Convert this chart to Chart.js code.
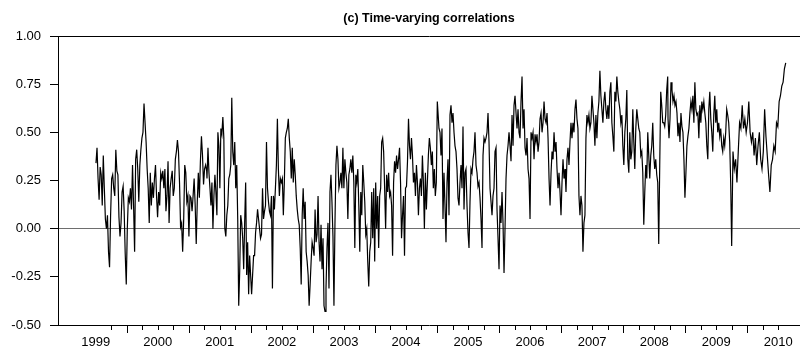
<!DOCTYPE html>
<html>
<head>
<meta charset="utf-8">
<script src="https://cdn.jsdelivr.net/npm/chart.js@4.4.0/dist/chart.umd.min.js"></script>
<style>
  html, body { margin: 0; padding: 0; background: #fff; }
  #wrap { width: 800px; height: 353px; }
</style>
</head>
<body>
<div id="wrap"><canvas id="corrChart"></canvas></div>
<script>
// tick labels
const yearLabels = ['1999', '2000', '2001', '2002', '2003', '2004', '2005', '2006', '2007', '2008', '2009', '2010'];
const yTicks = [-0.5, -0.25, 0, 0.25, 0.5, 0.75, 1];

// weekly correlations in stretches (first and last date of each)
const segStart = [1999.504, 2001.293, 2003.163, 2005.032, 2006.886, 2008.723, 2009.770];
const segEnd = [2001.288, 2003.147, 2005.005, 2006.870, 2008.718, 2009.749, 2010.620];

const corr1999 = [0.34,0.42,0.26,0.15,0.32,0.28,0.12,0.38,0.21,0.05,0.00,0.07,-0.12,-0.20,0.07,0.26,0.28,0.21,0.17,0.41,
  0.30,0.28,0.06,-0.04,0.03,0.19,0.22,0.09,-0.13,-0.29,0.00,0.16,0.14,0.21,0.10,0.33,0.12,-0.12,0.36,0.41,
  0.31,0.14,0.33,0.41,0.47,0.50,0.65,0.55,0.45,0.31,0.21,0.03,0.29,0.12,0.24,0.16,0.26,0.33,0.17,0.06,
  0.19,0.12,0.29,0.26,0.30,0.21,0.31,0.09,0.17,0.35,0.03,0.21,0.26,0.30,0.17,0.21,0.36,0.40,0.46,0.40,
  0.24,0.01,0.03,-0.12,0.05,0.33,0.29,0.14,0.17,-0.04,0.17,0.16,0.09,0.17,0.26,0.12,-0.08,0.14,0.29,0.16,
  0.35,0.48,0.38,0.23,0.31,0.33,0.30];
const corr2001 = [0.26,0.42,0.29,0.21,0.12,0.24,0.00,0.17,0.28,0.19,0.07,0.50,0.43,0.21,0.52,0.49,0.58,0.47,0.00,-0.04,
  0.07,0.12,0.26,0.28,0.33,0.68,0.40,0.33,0.45,0.21,0.33,0.05,-0.40,-0.22,0.07,0.03,-0.05,-0.21,0.03,0.24,
  -0.24,-0.07,-0.34,-0.14,-0.24,-0.34,-0.24,-0.14,-0.14,-0.02,0.03,0.10,0.05,0.00,-0.05,-0.03,0.21,0.05,0.09,0.12,
  0.45,0.21,0.14,0.09,0.07,0.17,-0.31,0.17,0.10,0.21,0.33,0.57,0.31,0.17,0.26,0.24,0.26,0.07,0.24,0.47,
  0.50,0.52,0.57,0.47,0.40,0.26,0.42,0.24,0.36,0.28,0.17,0.10,0.05,0.02,-0.10,-0.29,0.07,0.21,0.05,0.14,
  -0.12,-0.17,-0.24,-0.40,-0.29,-0.17,-0.07,-0.10,-0.14,0.10,-0.07,-0.03,0.17,-0.07,-0.17,0.02,-0.21];
const corr2003 = [-0.05,-0.40,-0.43,-0.31,-0.10,0.03,-0.31,0.19,0.28,0.14,-0.04,-0.40,0.02,0.33,0.43,0.36,0.21,0.24,0.29,0.21,
  0.42,0.21,0.36,0.29,0.24,0.05,0.28,0.31,0.36,0.29,0.38,0.24,-0.10,0.28,0.24,0.31,0.12,-0.12,0.19,0.07,
  0.33,0.24,0.14,-0.03,0.00,-0.17,-0.30,-0.12,-0.07,0.19,-0.05,0.21,-0.17,0.24,0.00,0.17,-0.10,0.17,0.21,0.45,
  0.47,0.40,0.21,0.00,0.28,0.19,0.29,0.17,0.19,0.12,-0.14,0.24,0.35,0.29,0.38,0.31,0.36,0.42,0.24,-0.05,
  0.07,0.17,-0.14,0.21,0.22,0.35,0.57,0.43,0.36,0.47,0.38,0.24,0.29,0.17,0.33,0.24,0.07,0.21,0.26,0.17,
  0.38,0.24,0.00,0.29,0.10,0.24,0.38,0.47,0.42,0.33,0.40,0.21,0.31,0.17,0.24,0.66];
const corr2005 = [0.52,0.50,0.38,0.52,0.05,0.29,0.12,-0.07,0.24,0.36,0.07,0.59,0.64,0.55,0.60,0.50,0.43,0.40,0.31,0.16,
  0.12,0.24,0.33,0.21,0.53,0.10,0.29,0.31,0.12,-0.02,-0.10,0.14,0.31,0.29,0.36,0.40,0.50,0.33,0.29,0.22,
  0.24,0.16,0.05,-0.10,0.38,0.47,0.45,0.47,0.50,0.60,0.45,0.21,0.14,0.07,0.17,0.21,0.40,0.42,0.10,-0.05,
  -0.21,0.12,0.03,0.19,0.03,-0.23,0.00,0.26,0.38,0.43,0.50,0.43,0.35,0.59,0.43,0.64,0.69,0.60,0.52,0.62,
  0.50,0.47,0.66,0.79,0.52,0.62,0.42,0.38,0.47,0.31,0.26,0.05,0.50,0.47,0.50,0.36,0.49,0.45,0.49,0.40,
  0.45,0.57,0.60,0.50,0.55,0.66,0.57,0.55,0.60,0.47,0.26,0.12,0.29,0.40,0.36];
const corr2007 = [0.50,0.40,0.45,0.31,0.21,0.29,0.19,0.07,0.24,0.36,0.26,0.31,0.19,0.36,0.42,0.33,0.45,0.55,0.47,0.55,
  0.50,0.62,0.67,0.57,0.52,0.17,0.07,0.17,0.12,-0.12,0.03,0.07,0.47,0.59,0.55,0.59,0.52,0.55,0.69,0.62,
  0.55,0.43,0.59,0.47,0.60,0.66,0.82,0.69,0.62,0.55,0.66,0.71,0.62,0.57,0.64,0.57,0.71,0.76,0.55,0.48,
  0.40,0.71,0.66,0.79,0.71,0.66,0.62,0.55,0.59,0.43,0.33,0.50,0.57,0.72,0.36,0.29,0.50,0.36,0.40,0.62,
  0.45,0.31,0.52,0.62,0.57,0.52,0.50,0.38,0.40,0.29,0.02,0.19,0.33,0.26,0.50,0.38,0.26,0.38,0.43,0.55,
  0.38,0.31,0.36,0.28,0.24,-0.08,0.33,0.71,0.64,0.55,0.55,0.53,0.59,0.72,0.79];
const corr2008 = [0.57,0.47,0.57,0.76,0.72,0.66,0.69,0.64,0.66,0.60,0.48,0.55,0.45,0.60,0.53,0.50,0.36,0.16,0.29,0.43,
  0.48,0.52,0.60,0.66,0.62,0.69,0.55,0.76,0.62,0.59,0.60,0.47,0.64,0.55,0.66,0.62,0.66,0.60,0.55,0.43,
  0.36,0.62,0.71,0.57,0.50,0.40,0.59,0.69,0.55,0.62,0.50,0.55,0.48,0.52,0.43,0.40,0.47,0.43,0.50,0.62,
  0.59,0.55,0.45,0.24,-0.09];
const corr2009 = [0.40,0.31,0.36,0.24,0.40,0.55,0.52,0.64,0.52,0.57,0.50,0.55,0.66,0.50,0.45,
  0.50,0.38,0.47,0.33,0.43,0.50,0.36,0.31,0.40,0.62,0.48,0.38,0.28,0.19,0.33,0.36,0.43,0.40,0.55,0.53,
  0.66,0.69,0.74,0.76,0.83,0.86];

const stretches = [corr1999, corr2001, corr2003, corr2005, corr2007, corr2008, corr2009];
const points = [];
stretches.forEach((vals, s) => {
    const step = (segEnd[s] - segStart[s]) / (vals.length - 1);
    vals.forEach((v, i) => points.push({ x: segStart[s] + i * step, y: v }));
});

const FONT = '"Liberation Sans", Arial, sans-serif';

// the title looks condensed; use the narrow face when it is installed
function hasFont(name) {
    const c = document.createElement('canvas').getContext('2d');
    c.font = 'bold 40px monospace';
    const a = c.measureText('Time-varying correlations').width;
    c.font = `bold 40px "${name}", monospace`;
    return Math.abs(c.measureText('Time-varying correlations').width - a) > 1;
}
const narrow = hasFont('Liberation Sans Narrow');
const titleFont = narrow
    ? { family: '"Liberation Sans Narrow", sans-serif', size: 14, weight: 'bold' }
    : { family: FONT, size: 12.5, weight: 'bold' };

// quarter ticks under the date axis, longer at each new year
const dateTicks = {
    id: 'dateTicks',
    afterDraw(chart) {
        const xs = chart.scales.x;
        const c = chart.ctx;
        const bottom = chart.chartArea.bottom;
        c.save();
        c.strokeStyle = '#000';
        c.lineWidth = 1;
        for (let q = 1999.75; q <= 2010.5 + 1e-6; q += 0.25) {
            const px = Math.round(xs.getPixelForValue(q)) + 0.5;
            const major = Math.abs(q - Math.round(q)) < 1e-6;
            c.beginPath();
            c.moveTo(px, bottom);
            c.lineTo(px, bottom + (major ? 8 : 5));
            c.stroke();
        }
        c.restore();
    }
};

new Chart(document.getElementById('corrChart'), {
    type: 'line',
    data: {
        datasets: [{
            data: points,
            borderColor: '#000',
            borderWidth: 1.2,
            pointRadius: 0,
            tension: 0
        }]
    },
    options: {
        responsive: true,
        maintainAspectRatio: false,
        animation: false,
        devicePixelRatio: 1,
        layout: { padding: { top: 0, right: 0, bottom: 0, left: 0 } },
        plugins: {
            legend: { display: false },
            tooltip: { enabled: false },
            title: {
                display: true,
                fullSize: false,
                text: '(c) Time-varying correlations',
                color: '#000',
                font: titleFont,
                padding: { top: 11, bottom: 36 - 11 - titleFont.size * 1.2 }
            }
        },
        scales: {
            x: {
                type: 'linear',
                min: 1998.892,
                max: 2010.85,
                afterBuildTicks: s => { s.ticks = yearLabels.map(y => ({ value: +y + 0.5 })); },
                afterFit: s => { s.height = 28; },
                ticks: {
                    autoSkip: false,
                    maxRotation: 0,
                    padding: 1.5,
                    color: '#000',
                    font: { family: FONT, size: 13 },
                    callback: v => String(Math.floor(v))
                },
                grid: { display: false, drawTicks: true, tickLength: 8 },
                border: { display: true, color: '#000', width: 1 }
            },
            y: {
                min: -0.5,
                max: 1,
                afterBuildTicks: s => { s.ticks = yTicks.map(v => ({ value: v })); },
                afterFit: s => { s.width = 58; },
                ticks: {
                    padding: 9,
                    color: '#000',
                    font: { family: FONT, size: 13 },
                    callback: v => v.toFixed(2)
                },
                grid: {
                    drawTicks: true,
                    tickLength: 8,
                    tickColor: '#000',
                    lineWidth: 1,
                    color: ctx => {
                        if (!ctx.tick) return 'rgba(0,0,0,0)';
                        if (ctx.tick.value === 0) return '#6e6e6e';
                        if (ctx.tick.value === 1) return '#000';
                        return 'rgba(0,0,0,0)';
                    }
                },
                border: { display: true, color: '#000', width: 1 }
            }
        }
    },
    plugins: [dateTicks]
});
</script>
</body>
</html>
